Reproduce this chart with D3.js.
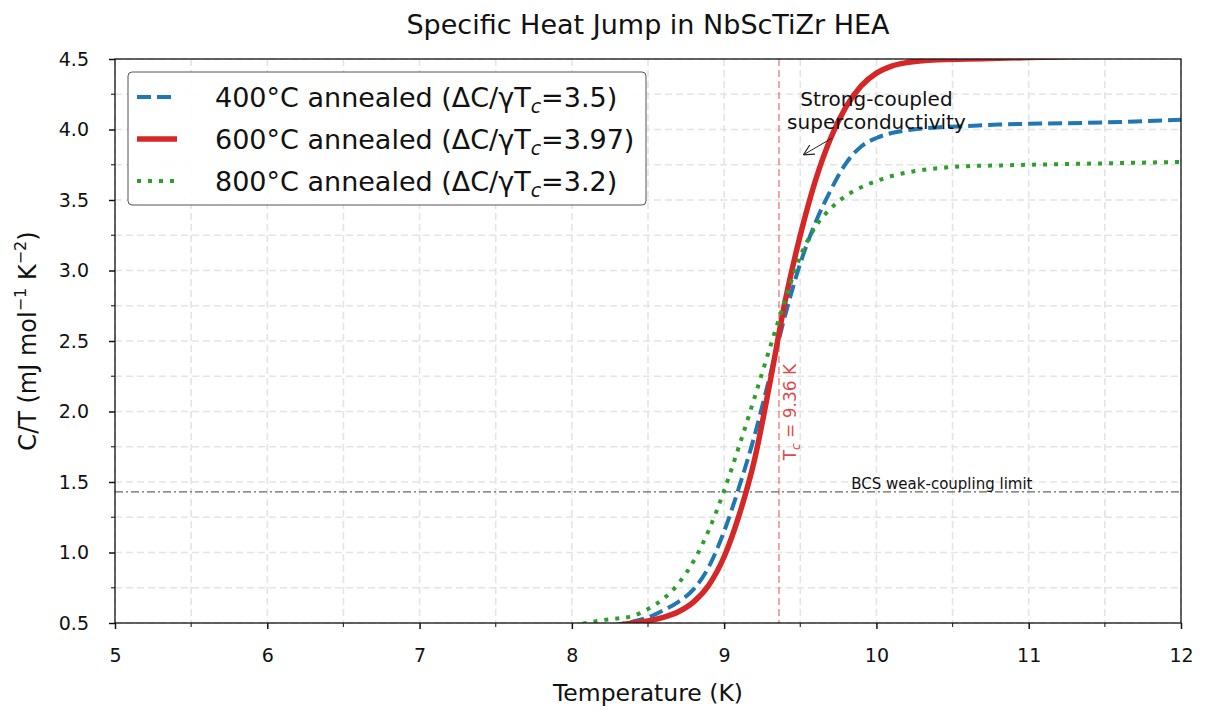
<!DOCTYPE html>
<html>
<head>
<meta charset="utf-8">
<script src="https://cdn.jsdelivr.net/npm/d3@7"></script>
<style>
  body { margin: 0; background: #fff; }
  svg text { font-family: "DejaVu Sans", sans-serif; }
</style>
</head>
<body>
<div id="chart"></div>
<script>
// temperatures (K) shared by all three samples
var temps = [8.0, 8.2, 8.4, 8.5, 8.6, 8.7, 8.8, 8.9, 9.0, 9.1, 9.2, 9.3, 9.4, 9.5, 9.6, 9.7, 9.8, 9.9, 10.0, 10.1, 10.2, 10.4, 10.6, 10.8, 11.0, 11.5, 12.0];

// C/T values
var ct400 = [0.42, 0.47, 0.51, 0.54, 0.59, 0.65, 0.74, 0.90, 1.15, 1.47, 1.83, 2.25, 2.68, 3.05, 3.34, 3.57, 3.76, 3.88, 3.94, 3.975, 3.995, 4.015, 4.025, 4.035, 4.04, 4.05, 4.07];
var ct600 = [0.42, 0.46, 0.50, 0.515, 0.54, 0.58, 0.65, 0.77, 0.97, 1.27, 1.66, 2.20, 2.78, 3.25, 3.64, 3.94, 4.16, 4.31, 4.40, 4.45, 4.475, 4.495, 4.50, 4.505, 4.51, 4.52, 4.53];
var ct800 = [0.48, 0.52, 0.55, 0.60, 0.67, 0.78, 0.94, 1.16, 1.44, 1.76, 2.10, 2.45, 2.79, 3.10, 3.31, 3.44, 3.53, 3.59, 3.635, 3.67, 3.695, 3.725, 3.74, 3.745, 3.75, 3.76, 3.77];

var seriesNames = ["400°C annealed", "600°C annealed", "800°C annealed"];
var jumpRatios = ["3.5", "3.97", "3.2"];

var xTicks = [5, 6, 7, 8, 9, 10, 11, 12];
var yTicks = [0.5, 1.0, 1.5, 2.0, 2.5, 3.0, 3.5, 4.0, 4.5];

var tc = 9.36;
var bcsLimit = 1.43;

var width = 1210, height = 711;
var margin = { top: 59, right: 29, bottom: 88, left: 115 };
var w = width - margin.left - margin.right;
var h = height - margin.top - margin.bottom;

var x = d3.scaleLinear().domain([5, 12]).range([0, w]);
var y = d3.scaleLinear().domain([0.5, 4.5]).range([h, 0]);

var svg = d3.select("#chart").append("svg")
    .attr("width", width)
    .attr("height", height);

var defs = svg.append("defs");
defs.append("clipPath").attr("id", "clip")
    .append("rect").attr("width", w).attr("height", h);

defs.append("marker")
    .attr("id", "arrow")
    .attr("viewBox", "0 0 10 10")
    .attr("refX", 10).attr("refY", 5)
    .attr("markerWidth", 11).attr("markerHeight", 11)
    .attr("markerUnits", "userSpaceOnUse")
    .attr("orient", "auto")
    .append("path")
    .attr("d", "M0,0 L10,5 L0,10")
    .attr("fill", "none")
    .attr("stroke", "#222")
    .attr("stroke-width", 1);

var g = svg.append("g")
    .attr("transform", "translate(" + margin.left + "," + margin.top + ")");

// grid, major + minor
var xGrid = d3.range(5, 12.01, 0.5);
var yGrid = d3.range(0.5, 4.51, 0.25);
g.append("g").selectAll("line").data(xGrid).enter().append("line")
    .attr("x1", function(d) { return x(d); })
    .attr("x2", function(d) { return x(d); })
    .attr("y1", 0).attr("y2", h)
    .attr("stroke", "#e4e4e4")
    .attr("stroke-width", 1.6)
    .attr("stroke-dasharray", "7,4");
g.append("g").selectAll("line").data(yGrid).enter().append("line")
    .attr("y1", function(d) { return y(d); })
    .attr("y2", function(d) { return y(d); })
    .attr("x1", 0).attr("x2", w)
    .attr("stroke", "#e4e4e4")
    .attr("stroke-width", 1.6)
    .attr("stroke-dasharray", "7,4");

// reference lines
g.append("line")
    .attr("x1", 0).attr("x2", w)
    .attr("y1", y(bcsLimit)).attr("y2", y(bcsLimit))
    .attr("stroke", "#666")
    .attr("stroke-width", 1.2)
    .attr("stroke-dasharray", "8,3,2,3");

g.append("text")
    .attr("x", x(10.43))
    .attr("y", y(bcsLimit) - 3)
    .attr("text-anchor", "middle")
    .attr("font-size", 15)
    .attr("fill", "#111")
    .text("BCS weak-coupling limit");

g.append("line")
    .attr("x1", x(tc)).attr("x2", x(tc))
    .attr("y1", 0).attr("y2", h)
    .attr("stroke", "#d62728")
    .attr("stroke-opacity", 0.5)
    .attr("stroke-width", 1.6)
    .attr("stroke-dasharray", "7,4");

var tcLabel = g.append("text")
    .attr("transform", "translate(" + (x(tc) + 17) + "," + (y(2.2) + 77) + ") rotate(-90)")
    .attr("font-size", 17)
    .attr("fill", "#d62728")
    .attr("fill-opacity", 0.85);
tcLabel.append("tspan").text("T");
tcLabel.append("tspan").attr("font-size", 12).attr("dy", 4).attr("font-style", "italic").text("c");
tcLabel.append("tspan").attr("dy", -4).text(" = 9.36 K");

// curves
var styles = [
    { data: ct400, color: "#1f77b4", width: 4, dash: "14,6" },
    { data: ct600, color: "#d62728", width: 5.5, dash: null },
    { data: ct800, color: "#2ca02c", width: 4, dash: "4,7" }
];

var line = d3.line()
    .x(function(d) { return x(d[0]); })
    .y(function(d) { return y(d[1]); })
    .curve(d3.curveMonotoneX);

var curves = g.append("g").attr("clip-path", "url(#clip)");
styles.forEach(function(s) {
    curves.append("path")
        .datum(temps.map(function(t, i) { return [t, s.data[i]]; }))
        .attr("d", line)
        .attr("fill", "none")
        .attr("stroke", s.color)
        .attr("stroke-width", s.width)
        .attr("stroke-dasharray", s.dash);
});

// annotation, two lines
var annLines = ["Strong-coupled", "superconductivity"];
g.selectAll(".ann").data(annLines).enter().append("text")
    .attr("class", "ann")
    .attr("x", x(10.0))
    .attr("y", function(d, i) { return 106 - margin.top + i * 23; })
    .attr("text-anchor", "middle")
    .attr("font-size", 20)
    .attr("fill", "#111")
    .text(function(d) { return d; });

g.append("line")
    .attr("x1", x(9.71)).attr("y1", y(3.94))
    .attr("x2", x(9.52)).attr("y2", y(3.82))
    .attr("stroke", "#222")
    .attr("stroke-width", 1)
    .attr("marker-end", "url(#arrow)");

// axes
var xAxis = d3.axisBottom(x).tickValues(xTicks).tickFormat(d3.format("d")).tickSize(6).tickPadding(20);
var yAxis = d3.axisLeft(y).tickValues(yTicks).tickFormat(d3.format(".1f")).tickSize(6).tickPadding(20);

var gx = g.append("g").attr("transform", "translate(0," + h + ")").call(xAxis);
var gy = g.append("g").call(yAxis);
[gx, gy].forEach(function(a) {
    a.select(".domain").remove();
    a.selectAll(".tick line").attr("stroke", "#111").attr("stroke-width", 1.5);
    a.selectAll(".tick text").attr("font-size", 19).attr("fill", "#111")
        .style("font-family", "DejaVu Sans");
});

// minor ticks
g.append("g").selectAll("line").data(d3.range(5.5, 12, 1)).enter().append("line")
    .attr("x1", function(d) { return x(d); }).attr("x2", function(d) { return x(d); })
    .attr("y1", h).attr("y2", h + 4)
    .attr("stroke", "#333").attr("stroke-width", 1.2);
g.append("g").selectAll("line").data(d3.range(0.75, 4.5, 0.5)).enter().append("line")
    .attr("y1", function(d) { return y(d); }).attr("y2", function(d) { return y(d); })
    .attr("x1", 0).attr("x2", -4)
    .attr("stroke", "#333").attr("stroke-width", 1.2);

// frame
g.append("rect")
    .attr("width", w).attr("height", h)
    .attr("fill", "none")
    .attr("stroke", "#111")
    .attr("stroke-width", 1.3);

// legend
var legend = g.append("g").attr("transform", "translate(13,13)");
legend.append("rect")
    .attr("width", 518).attr("height", 133)
    .attr("rx", 4)
    .attr("fill", "#fff")
    .attr("fill-opacity", 0.9)
    .attr("stroke", "#555")
    .attr("stroke-width", 1);

styles.forEach(function(s, i) {
    var row = legend.append("g").attr("transform", "translate(0," + (25 + i * 42) + ")");
    row.append("line")
        .attr("x1", 9).attr("x2", 49)
        .attr("stroke", s.color)
        .attr("stroke-width", s.width)
        .attr("stroke-dasharray", s.dash);
    var t = row.append("text")
        .attr("x", 87).attr("y", 10)
        .attr("font-size", 27)
        .attr("fill", "#111");
    t.append("tspan").text(seriesNames[i] + " (ΔC/γT");
    t.append("tspan").attr("font-size", 19).attr("dy", 6).attr("font-style", "italic").text("c");
    t.append("tspan").attr("dy", -6).text("=" + jumpRatios[i] + ")");
});

// titles
svg.append("text")
    .attr("x", margin.left + w / 2)
    .attr("y", 34)
    .attr("text-anchor", "middle")
    .attr("font-size", 27)
    .attr("fill", "#111")
    .text("Specific Heat Jump in NbScTiZr HEA");

svg.append("text")
    .attr("x", margin.left + w / 2)
    .attr("y", 701)
    .attr("text-anchor", "middle")
    .attr("font-size", 23.5)
    .attr("fill", "#111")
    .text("Temperature (K)");

var yl = svg.append("text")
    .attr("transform", "translate(36," + (margin.top + h / 2) + ") rotate(-90)")
    .attr("text-anchor", "middle")
    .attr("font-size", 24)
    .attr("fill", "#111");
yl.append("tspan").text("C/T (mJ mol");
yl.append("tspan").attr("font-size", 16).attr("dy", -10).text("−1");
yl.append("tspan").attr("dy", 10).text(" K");
yl.append("tspan").attr("font-size", 16).attr("dy", -10).text("−2");
yl.append("tspan").attr("dy", 10).text(")");
</script>
</body>
</html>
